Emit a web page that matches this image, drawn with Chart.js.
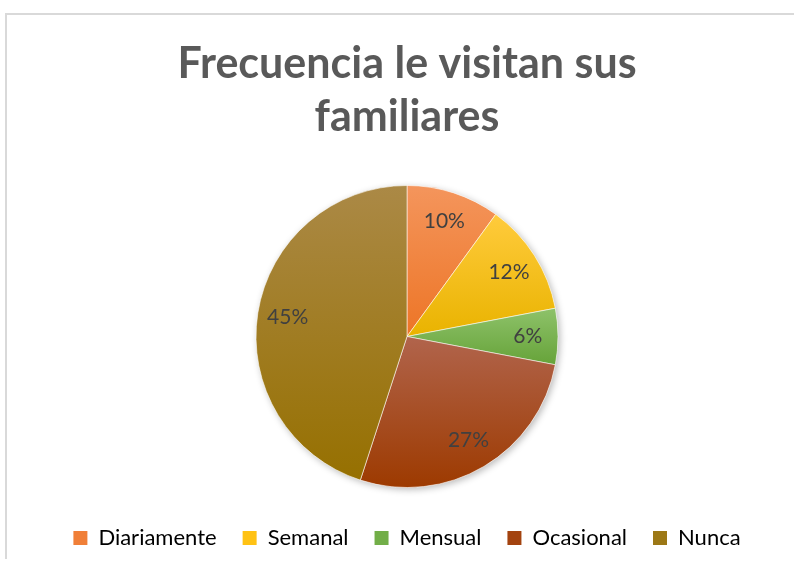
<!DOCTYPE html>
<html>
<head>
<meta charset="utf-8">
<script src="https://cdn.jsdelivr.net/npm/chart.js"></script>
<style>
  html, body { margin: 0; padding: 0; background: #fff; overflow: hidden; }
  #wrap { position: relative; width: 794px; height: 567px; }
  #frame { position: absolute; left: 5px; top: 13px; width: 800px; height: 544px;
           border-top: 2px solid #d9d9d9; border-left: 2px solid #d9d9d9; }
  canvas { position: absolute; left: 0; top: 0; }
</style>
</head>
<body>
<div id="wrap">
  <div id="frame"></div>
  <canvas id="pie" width="794" height="567"></canvas>
</div>
<script>
// Chart data
const categories = ['Diariamente', 'Semanal', 'Mensual', 'Ocasional', 'Nunca'];
const values = [10, 12, 6, 27, 45];
const labelsText = ['10%', '12%', '6%', '27%', '45%'];

// Excel-like gradient colors (top -> bottom)
const topColors = ['#F4955C', '#FFCB3C', '#8EC26A', '#B1644C', '#AB8946'];
const bottomColors = ['#ED7526', '#E9B300', '#66A339', '#9D3A00', '#967000'];
const legendColors = ['#F07F38', '#FFC214', '#72AE48', '#A3430F', '#9C7816'];

const FONT = 'Lato';
const R = 151;

function sliceGradient(c) {
  const i = c.dataIndex;
  const chart = c.chart;
  const area = chart.chartArea;
  if (!area || c.type !== 'data') return legendColors[i];
  const cx = (area.left + area.right) / 2;
  const cy = (area.top + area.bottom) / 2;
  const total = values.reduce((a, b) => a + b, 0);
  let acc = 0;
  for (let k = 0; k < i; k++) acc += values[k];
  const a0 = -Math.PI / 2 + acc / total * Math.PI * 2;
  const a1 = a0 + values[i] / total * Math.PI * 2;
  let y0 = cy, y1 = cy;
  for (let s = 0; s <= 40; s++) {
    const y = cy + R * Math.sin(a0 + (a1 - a0) * s / 40);
    y0 = Math.min(y0, y); y1 = Math.max(y1, y);
  }
  const g = chart.ctx.createLinearGradient(0, y0, 0, y1);
  g.addColorStop(0, topColors[i]);
  g.addColorStop(1, bottomColors[i]);
  return g;
}

// soft shadow under the pie
const pieShadow = {
  id: 'pieShadow',
  beforeDatasetsDraw(chart) {
    const el = chart.getDatasetMeta(0).data[0];
    if (!el) return;
    const ctx = chart.ctx;
    ctx.save();
    ctx.shadowColor = 'rgba(0,0,0,0.28)';
    ctx.shadowBlur = 7;
    ctx.shadowOffsetX = 2;
    ctx.shadowOffsetY = 2;
    ctx.fillStyle = '#ffffff';
    ctx.beginPath();
    ctx.arc(el.x, el.y, el.outerRadius, 0, Math.PI * 2);
    ctx.fill();
    ctx.restore();
  }
};

// percentage labels inside the slices
const sliceLabels = {
  id: 'sliceLabels',
  afterDatasetsDraw(chart) {
    const ctx = chart.ctx;
    ctx.save();
    ctx.font = '21px ' + FONT;
    ctx.fillStyle = '#404040';
    ctx.textAlign = 'center';
    ctx.textBaseline = 'middle';
    chart.getDatasetMeta(0).data.forEach((arc, i) => {
      const p = arc.getProps(['x', 'y', 'startAngle', 'endAngle', 'outerRadius'], true);
      const mid = (p.startAngle + p.endAngle) / 2;
      const r = p.outerRadius * 0.8;
      ctx.fillText(labelsText[i], p.x + r * Math.cos(mid), p.y + r * Math.sin(mid));
    });
    ctx.restore();
  }
};

new Chart(document.getElementById('pie'), {
  type: 'pie',
  data: {
    labels: categories,
    datasets: [{
      data: values,
      backgroundColor: sliceGradient,
      borderColor: 'rgba(255,255,255,0.55)',
      borderWidth: 1,
      radius: R
    }]
  },
  options: {
    responsive: false,
    animation: false,
    layout: { padding: { left: 20, right: 0, top: 0, bottom: 8 } },
    plugins: {
      title: {
        display: true,
        text: ['Frecuencia le visitan sus', 'familiares'],
        color: '#595959',
        font: { family: FONT, size: 43, weight: 'bold', lineHeight: '53px' },
        padding: { top: 38, bottom: 28 }
      },
      legend: {
        position: 'bottom',
        labels: {
          font: { family: FONT, size: 22 },
          color: '#595959',
          boxWidth: 14,
          boxHeight: 14,
          padding: 26,
          generateLabels(chart) {
            return categories.map((c, i) => ({
              text: c,
              fillStyle: legendColors[i],
              strokeStyle: legendColors[i],
              lineWidth: 0,
              index: i,
              hidden: false
            }));
          }
        }
      },
      tooltip: { enabled: false }
    }
  },
  plugins: [pieShadow, sliceLabels]
});
</script>
</body>
</html>
